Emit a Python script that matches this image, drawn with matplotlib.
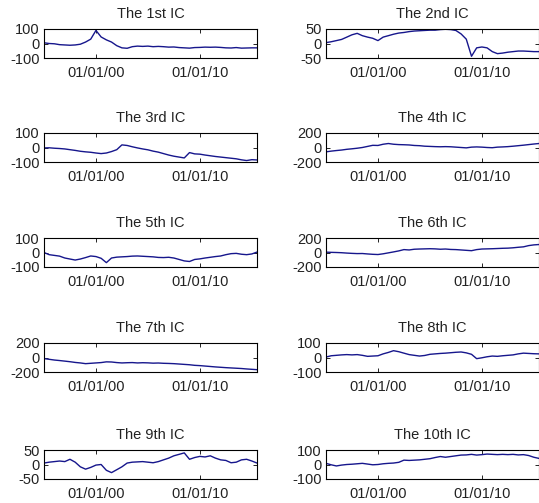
import matplotlib
matplotlib.use("Agg")
import matplotlib.pyplot as plt
import matplotlib.dates as mdates
import pandas as pd

# half-yearly samples, Jan 1995 .. Jul 2015
dates = pd.date_range("1995-01-01", periods=42, freq="6MS")

ic1 = [5, 0, -2, -8, -10, -12, -10, -5, 10, 30, 90, 45, 25, 10, -15, -30, -33, -22, -18, -20, -18,
       -22, -20, -22, -25, -24, -28, -30, -32, -28, -27, -25, -26, -25, -27, -30, -31, -28, -32, -31, -30, -30]
ic2 = [3, 6, 10, 14, 22, 30, 35, 27, 22, 18, 10, 22, 27, 32, 36, 38, 41, 43, 44, 45, 46,
       46, 48, 49, 48, 45, 33, 15, -44, -15, -12, -15, -28, -35, -33, -30, -28, -26, -26, -27, -28, -28]
ic3 = [-3, -2, -5, -7, -10, -15, -20, -26, -30, -33, -38, -42, -38, -28, -15, 18, 14, 5, -3, -10, -16,
       -25, -32, -42, -52, -60, -66, -72, -35, -44, -46, -52, -57, -62, -66, -70, -74, -78, -85, -90, -84, -86]
ic4 = [-60, -50, -42, -35, -25, -18, -10, 0, 15, 30, 28, 45, 55, 45, 40, 38, 35, 28, 25, 18, 15,
       12, 10, 12, 10, 5, 0, -5, 5, 8, 5, 0, -3, 5, 8, 12, 18, 25, 32, 40, 48, 55]
ic5 = [0, -15, -20, -25, -38, -45, -52, -45, -35, -24, -28, -40, -70, -38, -32, -30, -28, -25, -24, -26, -28,
       -30, -34, -35, -33, -38, -48, -58, -62, -48, -44, -38, -33, -28, -24, -15, -8, -6, -12, -15, -10, 3]
ic6 = [5, 2, 0, -3, -8, -12, -15, -14, -20, -25, -28, -18, -5, 8, 22, 40, 35, 45, 48, 50, 52,
       50, 45, 48, 42, 40, 35, 30, 25, 40, 48, 50, 52, 55, 58, 60, 65, 72, 78, 95, 105, 110]
ic7 = [-15, -25, -35, -42, -50, -58, -68, -75, -85, -80, -75, -70, -60, -62, -70, -75, -72, -70, -75, -72, -74,
       -78, -76, -80, -82, -85, -90, -95, -100, -108, -112, -118, -124, -130, -135, -140, -144, -148, -152, -158, -163, -168]
ic8 = [3, 12, 15, 18, 20, 18, 20, 15, 8, 10, 12, 25, 35, 47, 40, 30, 20, 15, 10, 14, 22,
       25, 28, 30, 33, 36, 38, 32, 22, -8, -2, 5, 10, 8, 12, 15, 18, 25, 30, 28, 26, 25]
ic9 = [5, 8, 10, 12, 10, 18, 8, -8, -16, -10, -2, 0, -20, -28, -18, -8, 5, 8, 9, 10, 8,
       6, 10, 16, 22, 30, 35, 40, 18, 24, 28, 26, 30, 22, 16, 14, 6, 8, 16, 18, 12, 5]
ic10 = [8, -2, -10, -4, 0, 2, 5, 8, 3, -2, 0, 5, 8, 10, 15, 30, 28, 30, 32, 36, 40,
        48, 55, 50, 55, 60, 65, 66, 70, 65, 68, 72, 70, 68, 70, 68, 70, 66, 68, 62, 50, 42]

series = [ic1, ic2, ic3, ic4, ic5, ic6, ic7, ic8, ic9, ic10]
titles = ["The 1st IC", "The 2nd IC", "The 3rd IC", "The 4th IC", "The 5th IC",
          "The 6th IC", "The 7th IC", "The 8th IC", "The 9th IC", "The 10th IC"]
ylims = [100, 50, 100, 200, 100, 200, 200, 100, 50, 100]
tick_dates = pd.to_datetime(["2000-01-01", "2010-01-01"])

plt.rcParams["font.family"] = ["Liberation Sans", "DejaVu Sans"]
plt.rcParams["font.size"] = 10.5
plt.rcParams["axes.unicode_minus"] = False

fig = plt.figure(figsize=(5.39, 5.03), dpi=100)

# panel rows (top edge, in pixels) and columns (left edge)
row_tops = [29, 133, 238, 343, 450]
col_lefts = [44, 326]
W, H = 539, 503
aw, ah = 213, 29

for i, (vals, title, lim) in enumerate(zip(series, titles, ylims)):
    r, c = i // 2, i % 2
    ax = fig.add_axes([col_lefts[c] / W, 1 - (row_tops[r] + ah) / H, aw / W, ah / H])
    ax.plot(dates, vals, color="#16168c", linewidth=1.0)
    ax.set_xlim(dates[0], dates[-1])
    ax.set_ylim(-lim, lim)
    ax.set_yticks([-lim, 0, lim])
    ax.set_xticks(tick_dates)
    ax.xaxis.set_major_formatter(mdates.DateFormatter("%m/%d/%y"))
    ax.tick_params(direction="in", length=3, width=0.6, top=True, right=True,
                   labelcolor="#222222")
    ax.tick_params(axis="x", pad=6)
    ax.tick_params(axis="y", pad=3)
    for s in ax.spines.values():
        s.set_linewidth(0.8)
    ax.set_title(title, fontsize=10.5, pad=8, color="#222222")

fig.savefig("out.png", dpi=100)
